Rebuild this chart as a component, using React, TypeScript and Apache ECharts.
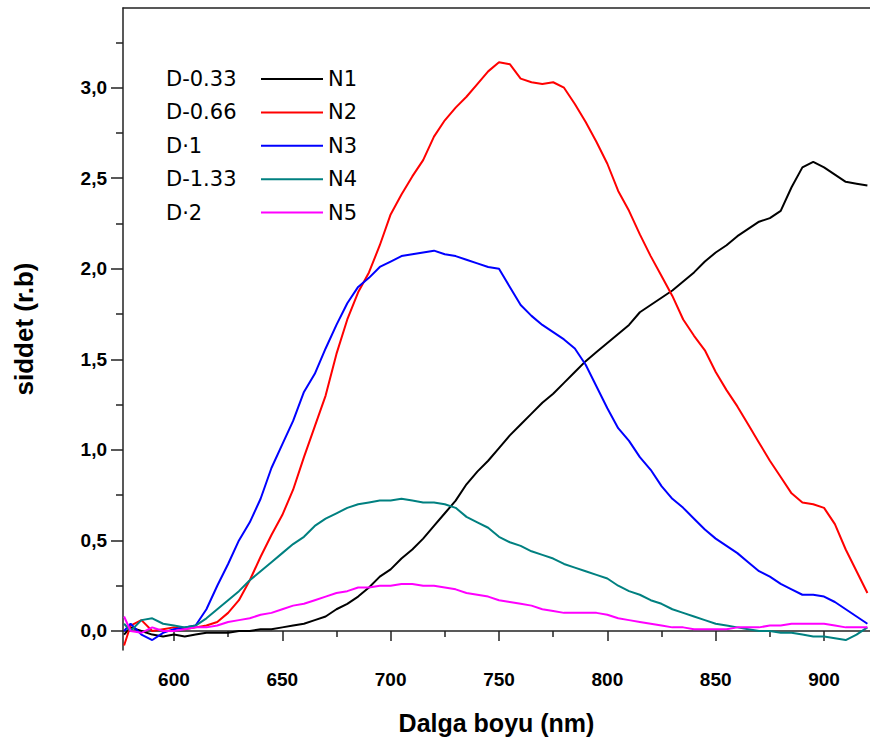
import React, { useEffect, useRef } from "react";
import * as echarts from "echarts";

// Wavelength (nm)
const wavelengths = [
  577, 580, 585, 590, 595, 600, 605, 610, 615, 620, 625, 630, 635, 640, 645, 650, 655, 660, 665, 670,
  675, 680, 685, 690, 695, 700, 705, 710, 715, 720, 725, 730, 735, 740, 745, 750, 755, 760, 765, 770,
  775, 780, 785, 790, 795, 800, 805, 810, 815, 820, 825, 830, 835, 840, 845, 850, 855, 860, 865, 870,
  875, 880, 885, 890, 895, 900, 905, 910, 915, 920,
];

const n1 = [
  -0.02, 0.02, 0.0, -0.02, -0.03, -0.02, -0.03, -0.02, -0.01, -0.01, -0.01, 0.0, 0.0, 0.01, 0.01, 0.02, 0.03, 0.04, 0.06, 0.08,
  0.12, 0.15, 0.19, 0.24, 0.3, 0.34, 0.4, 0.45, 0.51, 0.58, 0.65, 0.72, 0.81, 0.88, 0.94, 1.01, 1.08, 1.14, 1.2, 1.26,
  1.31, 1.37, 1.43, 1.49, 1.54, 1.59, 1.64, 1.69, 1.76, 1.8, 1.84, 1.88, 1.93, 1.98, 2.04, 2.09, 2.13, 2.18, 2.22, 2.26,
  2.28, 2.32, 2.45, 2.56, 2.59, 2.56, 2.52, 2.48, 2.47, 2.46,
];

const n2 = [
  -0.08, 0.03, 0.06, 0.0, 0.01, 0.02, 0.01, 0.02, 0.03, 0.05, 0.1, 0.17, 0.28, 0.41, 0.53, 0.64, 0.78, 0.96, 1.13, 1.3,
  1.53, 1.72, 1.87, 1.98, 2.13, 2.3, 2.41, 2.51, 2.6, 2.73, 2.82, 2.89, 2.95, 3.02, 3.09, 3.14, 3.13, 3.05, 3.03, 3.02,
  3.03, 3.0, 2.91, 2.81, 2.7, 2.58, 2.43, 2.32, 2.19, 2.07, 1.96, 1.85, 1.72, 1.63, 1.55, 1.43, 1.33, 1.24, 1.14, 1.04,
  0.94, 0.85, 0.76, 0.71, 0.7, 0.68, 0.59, 0.45, 0.33, 0.21,
];

const n3 = [
  0.0, 0.04, -0.02, -0.05, -0.01, 0.01, 0.02, 0.03, 0.12, 0.25, 0.37, 0.5, 0.6, 0.73, 0.9, 1.03, 1.16, 1.32, 1.42, 1.56,
  1.69, 1.81, 1.9, 1.95, 2.01, 2.04, 2.07, 2.08, 2.09, 2.1, 2.08, 2.07, 2.05, 2.03, 2.01, 2.0, 1.9, 1.8, 1.74, 1.69,
  1.65, 1.61, 1.56, 1.47, 1.35, 1.23, 1.12, 1.05, 0.96, 0.89, 0.8, 0.73, 0.68, 0.62, 0.56, 0.51, 0.47, 0.43, 0.38, 0.33,
  0.3, 0.26, 0.23, 0.2, 0.2, 0.19, 0.16, 0.12, 0.08, 0.04,
];

const n4 = [
  0.04, 0.0, 0.06, 0.07, 0.04, 0.03, 0.02, 0.03, 0.07, 0.12, 0.17, 0.22, 0.28, 0.33, 0.38, 0.43, 0.48, 0.52, 0.58, 0.62,
  0.65, 0.68, 0.7, 0.71, 0.72, 0.72, 0.73, 0.72, 0.71, 0.71, 0.7, 0.68, 0.63, 0.6, 0.57, 0.52, 0.49, 0.47, 0.44, 0.42,
  0.4, 0.37, 0.35, 0.33, 0.31, 0.29, 0.25, 0.22, 0.2, 0.17, 0.15, 0.12, 0.1, 0.08, 0.06, 0.04, 0.03, 0.02, 0.01, 0.0,
  0.0, -0.01, -0.01, -0.02, -0.03, -0.03, -0.04, -0.05, -0.02, 0.02,
];

const n5 = [
  0.08, 0.0, -0.01, 0.02, 0.0, 0.0, 0.01, 0.02, 0.02, 0.03, 0.05, 0.06, 0.07, 0.09, 0.1, 0.12, 0.14, 0.15, 0.17, 0.19,
  0.21, 0.22, 0.24, 0.24, 0.25, 0.25, 0.26, 0.26, 0.25, 0.25, 0.24, 0.23, 0.21, 0.2, 0.19, 0.17, 0.16, 0.15, 0.14, 0.12,
  0.11, 0.1, 0.1, 0.1, 0.1, 0.09, 0.07, 0.06, 0.05, 0.04, 0.03, 0.02, 0.02, 0.01, 0.01, 0.01, 0.01, 0.02, 0.02, 0.02,
  0.03, 0.03, 0.04, 0.04, 0.04, 0.04, 0.03, 0.02, 0.02, 0.02,
];

const seriesNames = ["N1", "N2", "N3", "N4", "N5"];
const sampleLabels = ["D-0.33", "D-0.66", "D·1", "D-1.33", "D·2"];
const seriesValues = [n1, n2, n3, n4, n5];
const seriesColors = ["#000000", "#ff0000", "#0000ff", "#008080", "#ff00ff"];

const xMajorTicks = [600, 650, 700, 750, 800, 850, 900];
const xMinorTicks = [625, 675, 725, 775, 825, 875];
const yMajorTicks = [0, 0.5, 1.0, 1.5, 2.0, 2.5, 3.0];
const yMinorTicks = [0.25, 0.75, 1.25, 1.75, 2.25, 2.75, 3.25];

const X_MIN = 576.5;
const X_MAX = 921.2;
const Y_MIN = -0.105;
const Y_MAX = 3.44;

export default function App() {
  const ref = useRef<HTMLDivElement>(null);

  useEffect(() => {
    if (!ref.current) return;
    const chart = echarts.init(ref.current, null, { renderer: "svg" });
    const axisColor = "#222";
    const labelFont = "'Liberation Sans', Arial, sans-serif";

    const legendTop = 68.5;
    const rowPitch = 33.4;

    const option: any = {
      animation: false,
      backgroundColor: "#ffffff",
      grid: { left: 123, right: 0, top: 8, bottom: 95, containLabel: false, outerBoundsMode: "none" },
      legend: {
        data: seriesNames,
        orient: "vertical",
        left: 260,
        top: legendTop,
        padding: 0,
        itemWidth: 62,
        itemHeight: 21,
        itemGap: rowPitch - 21,
        itemStyle: { opacity: 0 },
        textStyle: { fontFamily: "'DejaVu Sans', sans-serif", fontSize: 21, color: "#000", lineHeight: 21 },
      },
      graphic: sampleLabels.map((t, i) => ({
        type: "text",
        left: 166,
        top: legendTop + i * rowPitch,
        style: {
          text: t,
          fontFamily: "'DejaVu Sans', sans-serif",
          fontSize: 21,
          fill: "#000",
          lineHeight: 21,
        },
      })),
      xAxis: [
        {
          type: "value",
          position: "bottom",
          min: X_MIN,
          max: X_MAX,
          name: "Dalga boyu (nm)",
          nameLocation: "middle",
          nameGap: 60,
          nameTextStyle: { fontFamily: labelFont, fontWeight: "bold", fontSize: 25, color: "#000" },
          axisLine: { show: true, lineStyle: { color: axisColor, width: 1.5 } },
          axisTick: { show: true, length: 10, customValues: xMajorTicks, lineStyle: { color: axisColor, width: 1.5 } },
          axisLabel: {
            customValues: xMajorTicks,
            margin: 20,
            fontFamily: labelFont,
            fontWeight: "bold",
            fontSize: 19,
            color: "#000",
            formatter: (v: number) => String(v),
          },
          splitLine: { show: false },
        },
        {
          type: "value",
          position: "bottom",
          min: X_MIN,
          max: X_MAX,
          axisLine: { show: false },
          axisTick: { show: true, length: 6, customValues: xMinorTicks, lineStyle: { color: axisColor, width: 1.5 } },
          axisLabel: { show: false },
          splitLine: { show: false },
        },
        {
          type: "value",
          position: "top",
          min: X_MIN,
          max: X_MAX,
          axisLine: { show: true, lineStyle: { color: axisColor, width: 1.5 } },
          axisTick: { show: false },
          axisLabel: { show: false },
          splitLine: { show: false },
        },
      ],
      yAxis: [
        {
          type: "value",
          position: "left",
          min: Y_MIN,
          max: Y_MAX,
          name: "siddet (r.b)",
          nameLocation: "middle",
          nameGap: 86,
          nameTextStyle: { fontFamily: labelFont, fontWeight: "bold", fontSize: 26, color: "#000" },
          axisLine: { show: true, lineStyle: { color: axisColor, width: 1.5 } },
          axisTick: { show: true, length: 12, customValues: yMajorTicks, lineStyle: { color: axisColor, width: 1.5 } },
          axisLabel: {
            customValues: yMajorTicks,
            margin: 16,
            fontFamily: labelFont,
            fontWeight: "bold",
            fontSize: 19,
            color: "#000",
            formatter: (v: number) => v.toFixed(1).replace(".", ","),
          },
          splitLine: { show: false },
        },
        {
          type: "value",
          position: "left",
          min: Y_MIN,
          max: Y_MAX,
          axisLine: { show: false },
          axisTick: { show: true, length: 7, customValues: yMinorTicks, lineStyle: { color: axisColor, width: 1.5 } },
          axisLabel: { show: false },
          splitLine: { show: false },
        },
      ],
      series: seriesNames.map((name, i) => ({
        name,
        type: "line",
        xAxisIndex: 0,
        yAxisIndex: 0,
        data: wavelengths.map((w, j) => [w, seriesValues[i][j]]),
        showSymbol: false,
        symbol: "none",
        clip: true,
        color: seriesColors[i],
        lineStyle: { color: seriesColors[i], width: 2 },
        itemStyle: { color: seriesColors[i] },
      })),
    };

    chart.setOption(option);
    return () => chart.dispose();
  }, []);

  return (
    <div
      ref={ref}
      style={{ position: "absolute", left: 0, top: 0, width: 870, height: 745, background: "#fff" }}
    />
  );
}
